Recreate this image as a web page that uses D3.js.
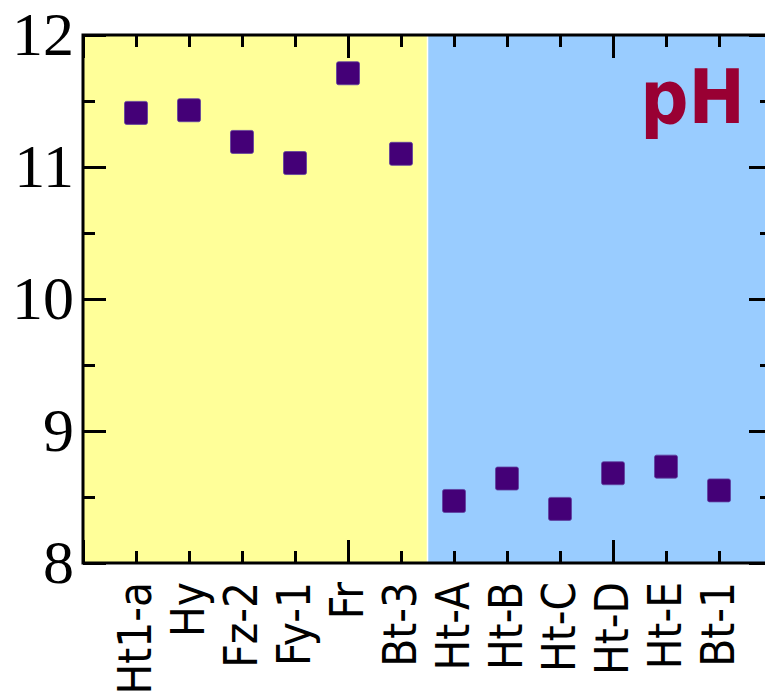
<!DOCTYPE html>
<html>
<head>
<meta charset="utf-8">
<script src="https://cdn.jsdelivr.net/npm/d3@7"></script>
<style>
  html, body { margin: 0; padding: 0; background: #fff; }
  svg { display: block; }
</style>
</head>
<body>
<div id="chart"></div>
<script>
(function(){
    // data ----------------------------------------------------------------
    var samples   = ['Ht1-a', 'Hy', 'Fz-2', 'Fy-1', 'Fr', 'Bt-3',
                     'Ht-A', 'Ht-B', 'Ht-C', 'Ht-D', 'Ht-E', 'Bt-1'];
    var phValues  = [11.41, 11.43, 11.19, 11.03, 11.71, 11.10,
                     8.47, 8.64, 8.41, 8.68, 8.73, 8.55];
    var groupEdges = [0, 6.5, 13];          // x-positions where the shaded groups split
    var yTicksMajor = [8, 9, 10, 11, 12];
    var yTicksMinor = [8.5, 9.5, 10.5, 11.5];
    var xTicksMajor = [0, 5, 10];
    var xTicksMinor = [1, 2, 3, 4, 6, 7, 8, 9, 11, 12];
    var panelLabel = 'pH';

    // layout / style ------------------------------------------------------
    var WIDTH  = 765,
        HEIGHT = 695,
        LEFT   = 83,
        RIGHT  = 772,     // right frame sits just past the window edge
        TOP    = 35,
        BOTTOM = 563;

    var GROUP_COLORS = ['#ffff99', '#99ccff'],
        MARKER_FILL  = '#440077',
        LABEL_COLOR  = '#990033',
        MAJOR = 23, MINOR = 12;

    var svg = d3.select('#chart').append('svg')
        .attr('width', WIDTH)
        .attr('height', HEIGHT);

    var x = d3.scaleLinear().domain([0, samples.length + 1]).range([LEFT, RIGHT]);
    var y = d3.scaleLinear().domain([8, 12]).range([BOTTOM, TOP]);

    // shaded groups
    svg.append('g').selectAll('rect')
        .data(d3.pairs(groupEdges))
        .enter().append('rect')
        .attr('x', function(d){ return x(d[0]); })
        .attr('y', y(12))
        .attr('width', function(d){ return x(d[1]) - x(d[0]); })
        .attr('height', y(8) - y(12))
        .attr('fill', function(d, i){ return GROUP_COLORS[i]; });

    // thin white divider between groups
    svg.append('line')
        .attr('x1', x(groupEdges[1])).attr('x2', x(groupEdges[1]))
        .attr('y1', y(12)).attr('y2', y(8))
        .attr('stroke', '#fff').attr('stroke-width', 1.5);

    // ticks (inside), all four sides
    function tickAxis(axisFn, scale, values, size, transform){
        var g = svg.append('g')
            .attr('transform', transform)
            .call(axisFn(scale).tickValues(values).tickSize(-size).tickFormat(''));
        g.select('.domain').remove();
        g.selectAll('line').attr('stroke', '#000').attr('stroke-width', 3);
        return g;
    }
    tickAxis(d3.axisBottom, x, xTicksMajor, MAJOR, 'translate(0,' + BOTTOM + ')');
    tickAxis(d3.axisBottom, x, xTicksMinor, MINOR, 'translate(0,' + BOTTOM + ')');
    tickAxis(d3.axisTop, x, xTicksMajor, MAJOR, 'translate(0,' + TOP + ')');
    tickAxis(d3.axisTop, x, xTicksMinor, MINOR, 'translate(0,' + TOP + ')');
    tickAxis(d3.axisLeft, y, yTicksMajor, MAJOR, 'translate(' + LEFT + ',0)');
    tickAxis(d3.axisLeft, y, yTicksMinor, MINOR, 'translate(' + LEFT + ',0)');
    tickAxis(d3.axisRight, y, yTicksMajor, MAJOR, 'translate(' + RIGHT + ',0)');
    tickAxis(d3.axisRight, y, yTicksMinor, MINOR, 'translate(' + RIGHT + ',0)');

    // frame
    svg.append('rect')
        .attr('x', LEFT).attr('y', TOP)
        .attr('width', RIGHT - LEFT).attr('height', BOTTOM - TOP)
        .attr('fill', 'none')
        .attr('stroke', '#000').attr('stroke-width', 3);

    // y labels
    svg.append('g').selectAll('text')
        .data(yTicksMajor)
        .enter().append('text')
        .attr('x', LEFT - 9)
        .attr('y', function(d){ return y(d); })
        .attr('dy', '0.33em')
        .attr('text-anchor', 'end')
        .style('font-family', '"Liberation Serif", "Times New Roman", serif')
        .style('font-size', '62px')
        .attr('fill', '#000')
        .text(function(d){ return d; });

    // x labels (rotated, condensed)
    svg.append('g').selectAll('text')
        .data(samples)
        .enter().append('text')
        .attr('transform', function(d, i){
            return 'translate(' + x(i + 1) + ',' + (BOTTOM + 19) + ') rotate(-90) scale(0.87,1)';
        })
        .attr('dy', '15px')
        .attr('text-anchor', 'end')
        .style('font-family', '"DejaVu Sans", sans-serif')
        .style('font-size', '47px')
        .attr('fill', '#000')
        .text(function(d){ return d; });

    // markers
    var S = 23;
    svg.append('g').selectAll('rect')
        .data(phValues)
        .enter().append('rect')
        .attr('x', function(d, i){ return x(i + 1) - S / 2; })
        .attr('y', function(d){ return y(d) - S / 2; })
        .attr('width', S).attr('height', S)
        .attr('rx', 2).attr('ry', 2)
        .attr('fill', MARKER_FILL)
        .attr('stroke', '#6040a0')
        .attr('stroke-width', 0.8);

    // panel label
    svg.append('text')
        .attr('transform', 'translate(745,123) scale(0.9,1)')
        .attr('text-anchor', 'end')
        .style('font-family', '"DejaVu Sans", sans-serif')
        .style('font-weight', 'bold')
        .style('font-size', '75px')
        .attr('fill', LABEL_COLOR)
        .text(panelLabel);

})();
</script>
</body>
</html>
